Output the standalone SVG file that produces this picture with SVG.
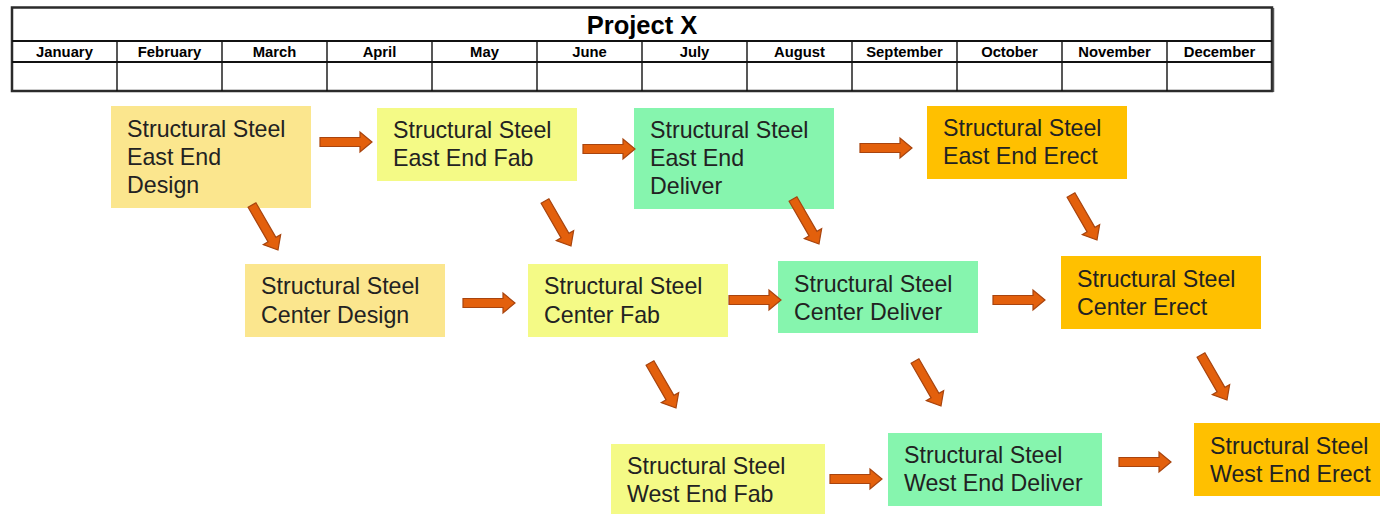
<svg xmlns="http://www.w3.org/2000/svg" xmlns:xlink="http://www.w3.org/1999/xlink" width="1380" height="514" viewBox="0 0 1380 514">
  <style>
    .frame { fill: #ffffff; stroke: #2b2b2b; stroke-width: 2.5; }
    .rule { stroke: #111; stroke-width: 2; }
    .col { stroke: #111; stroke-width: 1.4; }
    .title { font-family: "Liberation Sans", Arial, sans-serif; font-weight: bold; font-size: 25.5px; fill: #000; text-anchor: middle; }
    .month { font-family: "Liberation Sans", Arial, sans-serif; font-weight: bold; font-size: 14.8px; fill: #000; text-anchor: middle; }
    .lbl { font-family: "Liberation Sans", Arial, sans-serif; font-size: 23.2px; fill: #222; }
    .design { fill: #FBE68E; }
    .fab { fill: #F4FA86; }
    .deliver { fill: #86F5AE; }
    .erect { fill: #FFC000; }
    .arrow { fill: #E3600C; stroke: #A8440E; stroke-width: 1.2; stroke-linejoin: miter; }
  </style>
  <defs>
    <!-- block arrow, 52 long, pointing along +x, centred on y = 0 -->
    <path id="blk" class="arrow" d="M0,-4.5 H40 V-10 L52,0 L40,10 V4.5 H0 Z"/>
  </defs>

  <rect width="1380" height="514" fill="#ffffff"/>

  <!-- schedule header table -->
  <g id="schedule">
    <rect class="frame" x="12" y="7.5" width="1260" height="83.5"/>
    <line x1="1273.5" y1="8" x2="1273.5" y2="92" stroke="#555" stroke-width="1.5"/>
    <line class="rule" x1="12" y1="41" x2="1272" y2="41" stroke="#444"/>
    <line class="rule" x1="12" y1="62" x2="1272" y2="62"/>
    <g>
      <line class="col" x1="117" y1="41" x2="117" y2="91"/>
      <line class="col" x1="222" y1="41" x2="222" y2="91"/>
      <line class="col" x1="327" y1="41" x2="327" y2="91"/>
      <line class="col" x1="432" y1="41" x2="432" y2="91"/>
      <line class="col" x1="537" y1="41" x2="537" y2="91"/>
      <line class="col" x1="642" y1="41" x2="642" y2="91"/>
      <line class="col" x1="747" y1="41" x2="747" y2="91"/>
      <line class="col" x1="852" y1="41" x2="852" y2="91"/>
      <line class="col" x1="957" y1="41" x2="957" y2="91"/>
      <line class="col" x1="1062" y1="41" x2="1062" y2="91"/>
      <line class="col" x1="1167" y1="41" x2="1167" y2="91"/>
    </g>
    <text class="title" x="642" y="34">Project X</text>
    <text class="month" x="64.5" y="57">January</text>
    <text class="month" x="169.5" y="57">February</text>
    <text class="month" x="274.5" y="57">March</text>
    <text class="month" x="379.5" y="57">April</text>
    <text class="month" x="484.5" y="57">May</text>
    <text class="month" x="589.5" y="57">June</text>
    <text class="month" x="694.5" y="57">July</text>
    <text class="month" x="799.5" y="57">August</text>
    <text class="month" x="904.5" y="57">September</text>
    <text class="month" x="1009.5" y="57">October</text>
    <text class="month" x="1114.5" y="57">November</text>
    <text class="month" x="1219.5" y="57">December</text>
  </g>

  <!-- task nodes -->
  <g id="east-design">
    <rect class="design" x="111" y="106" width="200" height="102"/>
    <text class="lbl" x="127" y="137">Structural Steel</text>
    <text class="lbl" x="127" y="165">East End</text>
    <text class="lbl" x="127" y="193">Design</text>
  </g>
  <g id="east-fab">
    <rect class="fab" x="377" y="108" width="200" height="73"/>
    <text class="lbl" x="393" y="138">Structural Steel</text>
    <text class="lbl" x="393" y="166">East End Fab</text>
  </g>
  <g id="east-deliver">
    <rect class="deliver" x="634" y="108" width="200" height="101"/>
    <text class="lbl" x="650" y="138">Structural Steel</text>
    <text class="lbl" x="650" y="166">East End</text>
    <text class="lbl" x="650" y="194">Deliver</text>
  </g>
  <g id="east-erect">
    <rect class="erect" x="927" y="106" width="200" height="73"/>
    <text class="lbl" x="943" y="136">Structural Steel</text>
    <text class="lbl" x="943" y="164">East End Erect</text>
  </g>
  <g id="center-design">
    <rect class="design" x="245" y="264" width="200" height="73"/>
    <text class="lbl" x="261" y="294">Structural Steel</text>
    <text class="lbl" x="261" y="323">Center Design</text>
  </g>
  <g id="center-fab">
    <rect class="fab" x="528" y="264" width="200" height="73"/>
    <text class="lbl" x="544" y="294">Structural Steel</text>
    <text class="lbl" x="544" y="323">Center Fab</text>
  </g>
  <g id="center-deliver">
    <rect class="deliver" x="778" y="261" width="200" height="72"/>
    <text class="lbl" x="794" y="292">Structural Steel</text>
    <text class="lbl" x="794" y="320">Center Deliver</text>
  </g>
  <g id="center-erect">
    <rect class="erect" x="1061" y="256" width="200" height="73"/>
    <text class="lbl" x="1077" y="287">Structural Steel</text>
    <text class="lbl" x="1077" y="315">Center Erect</text>
  </g>
  <g id="west-fab">
    <rect class="fab" x="611" y="444" width="214" height="70"/>
    <text class="lbl" x="627" y="474">Structural Steel</text>
    <text class="lbl" x="627" y="502">West End Fab</text>
  </g>
  <g id="west-deliver">
    <rect class="deliver" x="888" y="433" width="214" height="73"/>
    <text class="lbl" x="904" y="463">Structural Steel</text>
    <text class="lbl" x="904" y="491">West End Deliver</text>
  </g>
  <g id="west-erect">
    <rect class="erect" x="1194" y="423" width="200" height="73"/>
    <text class="lbl" x="1210" y="454">Structural Steel</text>
    <text class="lbl" x="1210" y="482">West End Erect</text>
  </g>

  <!-- connectors -->
  <g id="connectors">
    <!-- horizontal -->
    <use xlink:href="#blk" transform="translate(320,142)"/>
    <use xlink:href="#blk" transform="translate(583,149)"/>
    <use xlink:href="#blk" transform="translate(860,148)"/>
    <use xlink:href="#blk" transform="translate(463,303)"/>
    <use xlink:href="#blk" transform="translate(729,300)"/>
    <use xlink:href="#blk" transform="translate(993,300)"/>
    <use xlink:href="#blk" transform="translate(830,479)"/>
    <use xlink:href="#blk" transform="translate(1119,462)"/>
    <!-- diagonal -->
    <use xlink:href="#blk" transform="translate(252,205) rotate(60)"/>
    <use xlink:href="#blk" transform="translate(545,201) rotate(60)"/>
    <use xlink:href="#blk" transform="translate(793,199) rotate(60)"/>
    <use xlink:href="#blk" transform="translate(1071,195) rotate(60)"/>
    <use xlink:href="#blk" transform="translate(650,363) rotate(60)"/>
    <use xlink:href="#blk" transform="translate(915,361) rotate(60)"/>
    <use xlink:href="#blk" transform="translate(1201,355) rotate(60)"/>
  </g>
</svg>
